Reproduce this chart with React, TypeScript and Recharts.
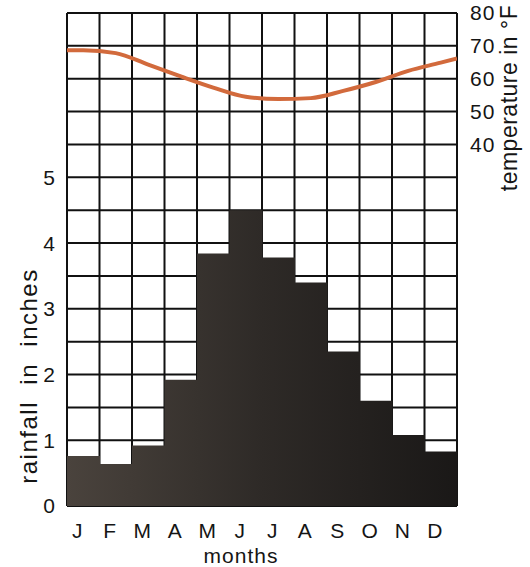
import React from 'react';
import { ComposedChart, Bar, Line, XAxis, YAxis, CartesianGrid, Label } from 'recharts';

const MONTHS = ['Jan', 'Feb', 'Mar', 'Apr', 'May', 'Jun', 'Jul', 'Aug', 'Sep', 'Oct', 'Nov', 'Dec'];
const MONTH_LETTERS = ['J', 'F', 'M', 'A', 'M', 'J', 'J', 'A', 'S', 'O', 'N', 'D'];
const RAINFALL = [0.76, 0.64, 0.92, 1.92, 3.84, 4.5, 3.78, 3.4, 2.35, 1.6, 1.08, 0.83];
const TEMPERATURE = [68.7, 67.8, 64.3, 60.7, 57.3, 54.5, 53.8, 54.1, 56.3, 59, 62.4, 64.9];
const TEMP_START = 68.7;
const TEMP_END = 66.2;
const RAIN_TICKS = [0, 0.5, 1, 1.5, 2, 2.5, 3, 3.5, 4, 4.5, 5, 5.5, 6, 6.5, 7, 7.5];
const RAIN_LABELS = [0, 1, 2, 3, 4, 5];
const TEMP_TICKS = [40, 50, 60, 70, 80];
const MONTH_EDGES = [0, 1, 2, 3, 4, 5, 6, 7, 8, 9, 10, 11, 12];

const rainRows = MONTHS.map((m, i) => ({ month: m, rain: RAINFALL[i] }));
const tempRows = [
  { pos: 0, temp: TEMP_START },
  ...TEMPERATURE.map((t, i) => ({ pos: i + 0.5, temp: t })),
  { pos: 12, temp: TEMP_END },
];

const FONT = '"Liberation Sans", Arial, Helvetica, sans-serif';

const LeftTitle = (props: any) => {
  const vb = props.viewBox || {};
  return (
    <text
      x={vb.x + 37}
      y={376}
      transform={`rotate(-90, ${vb.x + 37}, 376)`}
      textAnchor="middle"
      fontFamily={FONT}
      fontSize={24}
      letterSpacing={1.5}
      fill="#151515"
      style={{ whiteSpace: 'pre' }}
    >
      {'rainfall  in  inches'}
    </text>
  );
};

const RightTitle = (props: any) => {
  const vb = props.viewBox || {};
  const x = vb.x + 60;
  return (
    <text
      x={x}
      y={98}
      transform={`rotate(-90, ${x}, 98)`}
      textAnchor="middle"
      fontFamily={FONT}
      fontSize={23}
      letterSpacing={0.5}
      fill="#151515"
    >
      temperature in °F
    </text>
  );
};

const BottomTitle = (props: any) => {
  const vb = props.viewBox || {};
  return (
    <text
      x={vb.x + vb.width / 2 - 21}
      y={vb.y + 57}
      textAnchor="middle"
      fontFamily={FONT}
      fontSize={21}
      letterSpacing={1}
      fill="#151515"
    >
      months
    </text>
  );
};

export default function App() {
  return (
    <div style={{ position: 'absolute', left: 0, top: 0, width: 530, height: 567, background: '#fff' }}>
      <ComposedChart
        width={530}
        height={567}
        data={rainRows}
        margin={{ top: 13, right: 0, left: 0, bottom: 0 }}
        barCategoryGap={0}
        barGap={0}
      >
        <defs>
          <linearGradient id="barFill" x1="67" y1="0" x2="457" y2="0" gradientUnits="userSpaceOnUse">
            <stop offset="0%" stopColor="#4a433d" />
            <stop offset="50%" stopColor="#2e2a27" />
            <stop offset="100%" stopColor="#1a1817" />
          </linearGradient>
        </defs>
        <CartesianGrid
          xAxisId="grid"
          yAxisId="rain"
          stroke="#111"
          strokeWidth={2}
          strokeOpacity={1}
          horizontal
          vertical
        />
        <XAxis
          xAxisId="grid"
          type="number"
          dataKey="pos"
          domain={[0, 12]}
          ticks={MONTH_EDGES}
          allowDataOverflow
          height={0}
          hide
        />
        <XAxis
          xAxisId="m"
          dataKey="month"
          type="category"
          height={61}
          axisLine={false}
          tickLine={false}
          tickSize={0}
          tickMargin={17}
          interval={0}
          tickFormatter={(_v: any, i: number) => MONTH_LETTERS[i]}
          tick={{ fontSize: 21, fill: '#151515', fontFamily: FONT, dx: -6 }}
        >
          <Label content={<BottomTitle />} />
        </XAxis>
        <YAxis
          yAxisId="rain"
          orientation="left"
          width={67}
          domain={[0, 7.5]}
          ticks={RAIN_TICKS}
          interval={0}
          allowDataOverflow
          axisLine={false}
          tickLine={false}
          tickSize={0}
          tickMargin={12}
          tickFormatter={(v: number) => (RAIN_LABELS.includes(v) ? String(v) : '')}
          tick={{ fontSize: 21, fill: '#151515', fontFamily: FONT }}
        >
          <Label content={<LeftTitle />} />
        </YAxis>
        <YAxis
          yAxisId="temp"
          orientation="right"
          width={73}
          domain={[-70, 80]}
          ticks={TEMP_TICKS}
          interval={0}
          allowDataOverflow
          axisLine={false}
          tickLine={false}
          tickSize={0}
          tickMargin={13}
          tick={{ fontSize: 21, fill: '#151515', fontFamily: FONT, letterSpacing: 1 }}
        >
          <Label content={<RightTitle />} />
        </YAxis>
        <Bar
          xAxisId="m"
          yAxisId="rain"
          dataKey="rain"
          fill="url(#barFill)"
          isAnimationActive={false}
        />
        <Line
          xAxisId="grid"
          yAxisId="temp"
          data={tempRows}
          dataKey="temp"
          type="monotone"
          stroke="#d26a3c"
          strokeWidth={4}
          dot={false}
          activeDot={false}
          isAnimationActive={false}
        />
      </ComposedChart>
    </div>
  );
}
